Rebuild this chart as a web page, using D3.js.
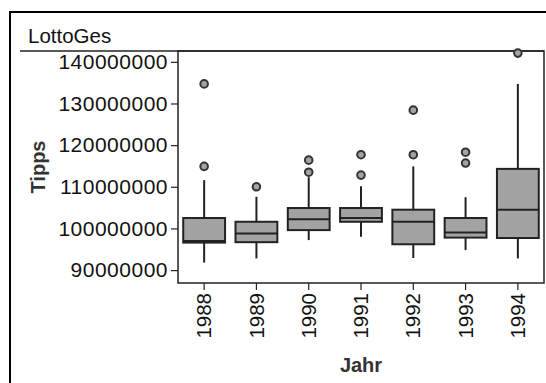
<!DOCTYPE html>
<html>
<head>
<meta charset="utf-8">
<script src="https://cdn.jsdelivr.net/npm/d3@7"></script>
<style>
  body { margin: 0; background: #fff; }
  text { font-family: "Liberation Sans", Arial, sans-serif; }
</style>
</head>
<body>
<script>
(function(d3) {
  "use strict";

  /***** Data *****/
  var years = ["1988", "1989", "1990", "1991", "1992", "1993", "1994"];
  var whiskerLow = [91.8e6, 92.8e6, 97.2e6, 98.0e6, 92.9e6, 94.8e6, 92.8e6];
  var q1 = [96.6e6, 96.7e6, 99.6e6, 101.6e6, 96.2e6, 97.8e6, 97.7e6];
  var median = [97.0e6, 98.8e6, 102.2e6, 102.5e6, 101.6e6, 99.0e6, 104.5e6];
  var q3 = [102.5e6, 101.6e6, 104.9e6, 104.9e6, 104.5e6, 102.5e6, 114.3e6];
  var whiskerHigh = [111.6e6, 107.6e6, 112.3e6, 110.1e6, 114.9e6, 107.5e6, 134.7e6];
  var outliers = [
    [114.9e6, 134.7e6],
    [110.0e6],
    [113.5e6, 116.4e6],
    [112.8e6, 117.7e6],
    [117.7e6, 128.4e6],
    [115.7e6, 118.3e6],
    [142.1e6]
  ];
  var yTicks = [90e6, 100e6, 110e6, 120e6, 130e6, 140e6];

  /***** Configuration *****/
  var width = 546, height = 383;
  var panel = { left: 178, top: 51, right: 544, bottom: 283 };

  var svg = d3.select("body").append("svg")
    .attr("width", width)
    .attr("height", height);

  /***** Scales *****/
  var x = d3.scaleBand()
    .domain(years)
    .range([panel.left, panel.right])
    .paddingInner(0.2)
    .paddingOuter(0.1);

  var y = d3.scaleLinear()
    .domain([86.9e6, 142.6e6])
    .range([panel.bottom, panel.top]);

  // Outer frame
  svg.append("rect")
    .attr("x", 10).attr("y", 12)
    .attr("width", 600).attr("height", 400)
    .attr("fill", "none")
    .attr("stroke", "#000")
    .attr("stroke-width", 2);

  // Title and separator
  svg.append("text")
    .attr("x", 28).attr("y", 43)
    .attr("font-size", 20.5)
    .attr("fill", "#111")
    .text("LottoGes");

  svg.append("line")
    .attr("x1", 20).attr("x2", panel.right)
    .attr("y1", panel.top).attr("y2", panel.top)
    .attr("stroke", "#222")
    .attr("stroke-width", 1.5);

  // Panel border
  svg.append("rect")
    .attr("x", panel.left).attr("y", panel.top)
    .attr("width", panel.right - panel.left)
    .attr("height", panel.bottom - panel.top)
    .attr("fill", "none")
    .attr("stroke", "#222")
    .attr("stroke-width", 1.5);

  /***** Axes *****/
  var yAxis = d3.axisLeft(y)
    .tickValues(yTicks)
    .tickFormat(d3.format("d"))
    .tickSize(7)
    .tickPadding(3);

  var yG = svg.append("g")
    .attr("transform", "translate(" + panel.left + ",0)")
    .call(yAxis);
  yG.select(".domain").remove();
  yG.selectAll("line").attr("stroke", "#222").attr("stroke-width", 1.2);
  yG.selectAll("text")
    .attr("font-size", 21)
    .attr("letter-spacing", 0.5)
    .attr("font-family", "Liberation Sans, Arial, sans-serif")
    .attr("fill", "#111");

  var xAxis = d3.axisBottom(x).tickSize(7).tickPadding(3);
  var xG = svg.append("g")
    .attr("transform", "translate(0," + panel.bottom + ")")
    .call(xAxis);
  xG.select(".domain").remove();
  xG.selectAll("line").attr("stroke", "#222").attr("stroke-width", 1.2);
  xG.selectAll("text")
    .attr("font-size", 20.5)
    .attr("font-family", "Liberation Sans, Arial, sans-serif")
    .attr("fill", "#111")
    .attr("transform", "rotate(-90)")
    .attr("text-anchor", "end")
    .attr("dy", "0.35em")
    .attr("x", -10)
    .attr("y", 0);

  // Axis titles
  svg.append("text")
    .attr("transform", "translate(45," + ((panel.top + panel.bottom) / 2) + ") rotate(-90)")
    .attr("text-anchor", "middle")
    .attr("font-size", 20)
    .attr("font-weight", "bold")
    .attr("fill", "#333")
    .text("Tipps");

  svg.append("text")
    .attr("x", (panel.left + panel.right) / 2)
    .attr("y", 372)
    .attr("text-anchor", "middle")
    .attr("font-size", 20)
    .attr("font-weight", "bold")
    .attr("fill", "#333")
    .text("Jahr");

  /***** Boxes *****/
  var stats = years.map(function(yr, i) {
    return { year: yr, lo: whiskerLow[i], q1: q1[i], med: median[i], q3: q3[i], hi: whiskerHigh[i], out: outliers[i] };
  });

  var g = svg.append("g");
  var box = g.selectAll(".box").data(stats).enter().append("g").attr("class", "box");

  box.append("line")
    .attr("x1", function(d) { return x(d.year) + x.bandwidth() / 2; })
    .attr("x2", function(d) { return x(d.year) + x.bandwidth() / 2; })
    .attr("y1", function(d) { return y(d.hi); })
    .attr("y2", function(d) { return y(d.q3); })
    .attr("stroke", "#222").attr("stroke-width", 2);

  box.append("line")
    .attr("x1", function(d) { return x(d.year) + x.bandwidth() / 2; })
    .attr("x2", function(d) { return x(d.year) + x.bandwidth() / 2; })
    .attr("y1", function(d) { return y(d.q1); })
    .attr("y2", function(d) { return y(d.lo); })
    .attr("stroke", "#222").attr("stroke-width", 2);

  box.append("rect")
    .attr("x", function(d) { return x(d.year); })
    .attr("y", function(d) { return y(d.q3); })
    .attr("width", x.bandwidth())
    .attr("height", function(d) { return y(d.q1) - y(d.q3); })
    .attr("fill", "#a3a3a3")
    .attr("stroke", "#222")
    .attr("stroke-width", 2);

  box.append("line")
    .attr("x1", function(d) { return x(d.year); })
    .attr("x2", function(d) { return x(d.year) + x.bandwidth(); })
    .attr("y1", function(d) { return y(d.med); })
    .attr("y2", function(d) { return y(d.med); })
    .attr("stroke", "#222").attr("stroke-width", 2);

  box.selectAll("circle")
    .data(function(d) { return d.out.map(function(v) { return { year: d.year, v: v }; }); })
    .enter().append("circle")
    .attr("cx", function(d) { return x(d.year) + x.bandwidth() / 2; })
    .attr("cy", function(d) { return y(d.v); })
    .attr("r", 3.8)
    .attr("fill", "#a3a3a3")
    .attr("stroke", "#333")
    .attr("stroke-width", 2);
})(d3);
</script>
</body>
</html>
